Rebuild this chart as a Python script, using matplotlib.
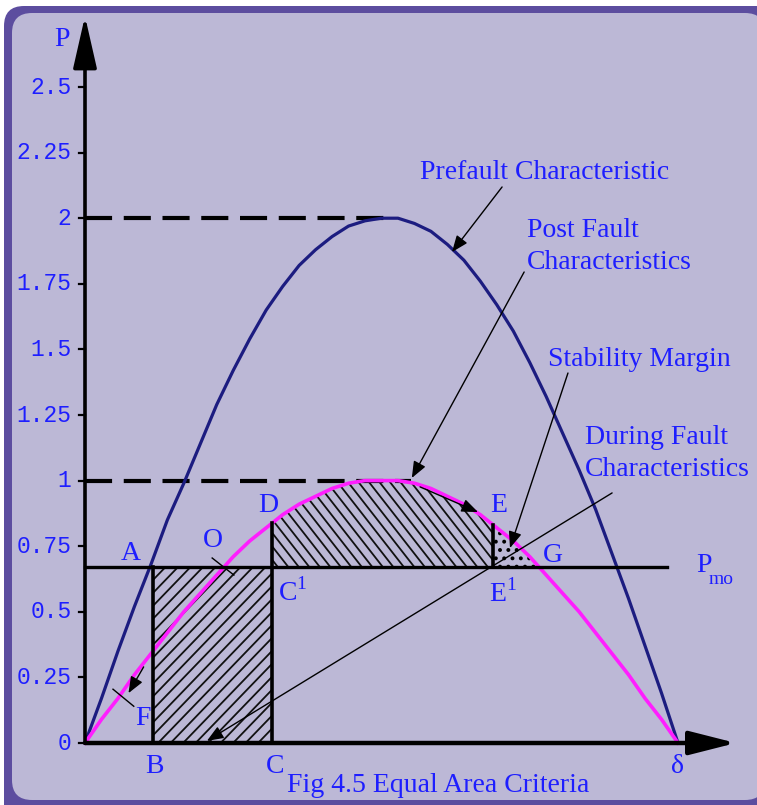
import numpy as np
import matplotlib
matplotlib.use("Agg")
import matplotlib.pyplot as plt
from matplotlib.patches import FancyBboxPatch, Polygon
from matplotlib.collections import LineCollection

# ---------------- data ----------------
delta_deg = [0, 5, 10, 15, 20, 25, 30, 35, 40, 45, 50, 55, 60, 65, 70, 75, 80, 85, 90,
             95, 100, 105, 110, 115, 120, 125, 130, 135, 140, 145, 150, 155, 160, 165, 170, 175, 180]
prefault = [0.00, 0.17, 0.35, 0.52, 0.68, 0.85, 0.99, 1.14, 1.29, 1.42, 1.54, 1.65, 1.74, 1.82, 1.88, 1.93, 1.97, 1.99, 2.00,
            2.00, 1.98, 1.95, 1.90, 1.84, 1.76, 1.67, 1.57, 1.45, 1.32, 1.18, 1.04, 0.89, 0.72, 0.55, 0.37, 0.19, 0.00]
postfault = [0.00, 0.09, 0.17, 0.26, 0.34, 0.42, 0.50, 0.57, 0.64, 0.71, 0.77, 0.82, 0.87, 0.91, 0.94, 0.97, 0.99, 1.00, 1.00,
             1.00, 0.99, 0.97, 0.94, 0.91, 0.87, 0.82, 0.77, 0.71, 0.64, 0.57, 0.50, 0.42, 0.34, 0.26, 0.17, 0.09, 0.00]
p_mo = 0.67
delta_B = 20.6      # A / B
delta_C = 56.8      # C / D
delta_E = 123.9     # E / E1
delta_G = 138.5     # G
y_ticks = [0, 0.25, 0.5, 0.75, 1, 1.25, 1.5, 1.75, 2, 2.25, 2.5]
y_tick_labels = ["0", "0.25", "0.5", "0.75", "1", "1.25", "1.5", "1.75", "2", "2.25", "2.5"]
dashed_levels = [2.0, 1.0]
dashed_ends = [94.0, 99.0]

d = np.array(delta_deg, dtype=float)
pre = np.array(prefault)
post = np.array(postfault)

# ---------------- style ----------------
BG = "#bcb8d6"
FRAME = "#5c4d9f"
BLUE = "#1e1eff"
NAVY = "#1c1c80"
PINK = "#ff1eff"
SERIF = ["Liberation Serif", "DejaVu Serif"]
MONO = ["Liberation Mono", "DejaVu Sans Mono"]
plt.rcParams["hatch.linewidth"] = 1.6
plt.rcParams["hatch.color"] = "black"

W, H = 757, 805
fig = plt.figure(figsize=(W / 100, H / 100), dpi=100)
fig.patch.set_facecolor("white")

# background frame (pixel coordinates, y up)
bg = fig.add_axes([0, 0, 1, 1])
bg.set_xlim(0, W)
bg.set_ylim(0, H)
bg.axis("off")
bg.add_patch(FancyBboxPatch((4, -20), 800, H - 6 + 20, boxstyle="round,pad=0,rounding_size=20",
                            facecolor=FRAME, edgecolor="none"))
bg.add_patch(FancyBboxPatch((12, 5), 753, H - 13 - 5, boxstyle="round,pad=0,rounding_size=20",
                            facecolor=BG, edgecolor="none"))

# main data axes: delta 0..180 -> x 85..678 px ; P 0..2.5 -> y 743..87 px
px_per_deg = (678 - 85) / 180.0
px_per_p = (743 - 87) / 2.5
ax = fig.add_axes([0, 0, 1, 1])
ax.patch.set_alpha(0)
ax.set_xlim(-85 / px_per_deg, (W - 85) / px_per_deg)
ax.set_ylim(-(H - 743) / px_per_p, 743 / px_per_p)
ax.axis("off")


def hatch_region(xs, ylo, yhi, angle_deg, spacing_px, lw=1.3):
    """Parallel hatch lines (in pixel space) clipped to the region between ylo and yhi."""
    xs = np.asarray(xs, float)
    ylo = np.broadcast_to(np.asarray(ylo, float), xs.shape)
    yhi = np.broadcast_to(np.asarray(yhi, float), xs.shape)
    poly = np.column_stack([np.r_[xs, xs[::-1]], np.r_[ylo, yhi[::-1]]])
    clip = Polygon(poly, closed=True, facecolor="none", edgecolor="none")
    ax.add_patch(clip)
    x0, x1 = xs.min() * px_per_deg, xs.max() * px_per_deg
    y0, y1 = min(ylo.min(), yhi.min()) * px_per_p, max(ylo.max(), yhi.max()) * px_per_p
    t = np.tan(np.radians(angle_deg))
    span = abs((y1 - y0) / t)
    segs = []
    for c in np.arange(x0 - span - spacing_px, x1 + span + spacing_px, spacing_px):
        xa = c
        xb = c + (y1 - y0) / t
        segs.append([(xa / px_per_deg, y0 / px_per_p), (xb / px_per_deg, y1 / px_per_p)])
    lc = LineCollection(segs, colors="#111111", linewidths=lw, zorder=2)
    lc.set_clip_path(clip)
    ax.add_collection(lc)


# hatched areas
hatch_region([delta_B, delta_C], 0.0, p_mo, 46, 12.5)
m = (d > delta_C) & (d < delta_E)
xs2 = np.concatenate([[delta_C], d[m], [delta_E]])
ys2 = np.interp(xs2, d, post)
hatch_region(xs2, p_mo, ys2, -52, 10.5)
m3 = (d > delta_E) & (d < delta_G)
xs3 = np.concatenate([[delta_E], d[m3], [delta_G]])
ys3 = np.interp(xs3, d, post)
ax.fill_between(xs3, p_mo, ys3, facecolor="none", edgecolor="black", hatch="..",
                linewidth=0, zorder=2)

# dashed reference lines
for lev, end in zip(dashed_levels, dashed_ends):
    ax.plot([0, end], [lev, lev], color="black", lw=3, dashes=(6.5, 2.8), zorder=3,
            solid_capstyle="butt", dash_capstyle="butt")

# curves
ax.plot(d, pre, color=NAVY, lw=2.3, zorder=4)
ax.plot(d, post, color=PINK, lw=2.6, zorder=4)

# Pmo line and vertical lines
ax.plot([0, 176.7], [p_mo, p_mo], color="black", lw=2.4, zorder=5)
ax.plot([delta_B, delta_B], [0, p_mo], color="black", lw=2.6, zorder=5)
pC = np.interp(delta_C, d, post)
pE = np.interp(delta_E, d, post)
ax.plot([delta_C, delta_C], [0, pC], color="black", lw=2.6, zorder=5)
ax.plot([delta_E, delta_E], [p_mo, pE], color="black", lw=2.6, zorder=5)

# axes with arrow heads
ax.annotate("", xy=(0, 2.77), xytext=(0, 0),
            arrowprops=dict(arrowstyle="-|>,head_length=1.45,head_width=0.33", mutation_scale=22,
                            lw=2.6, color="black", shrinkA=0, shrinkB=0), zorder=6)
ax.annotate("", xy=(197.6, 0), xytext=(0, 0),
            arrowprops=dict(arrowstyle="-|>,head_length=1.3,head_width=0.33", mutation_scale=22,
                            lw=3.2, color="black", shrinkA=0, shrinkB=0), zorder=6)

# y ticks
tick_len = 6 / px_per_deg
for t, lab in zip(y_ticks, y_tick_labels):
    ax.plot([-tick_len, 0], [t, t], color="black", lw=1.6, zorder=6)
    ax.text(-13.5 / px_per_deg, t, lab, family=MONO, fontsize=16.5, color=BLUE,
            ha="right", va="center")

# annotation arrows
arr = dict(arrowstyle="-|>,head_length=0.5,head_width=0.2", mutation_scale=20, lw=1.0,
           color="black", shrinkA=0, shrinkB=0)
ax.annotate("", xy=(111.4, 1.871), xytext=(126.6, 2.119), arrowprops=arr, zorder=7)
ax.annotate("", xy=(99.2, 1.01), xytext=(133.3, 1.795), arrowprops=arr, zorder=7)
ax.annotate("", xy=(129.0, 0.743), xytext=(146.6, 1.41), arrowprops=arr, zorder=7)
ax.annotate("", xy=(37.0, 0.008), xytext=(160.0, 0.953), arrowprops=arr, zorder=7)
ax.annotate("", xy=(119.3, 0.88), xytext=(101.7, 0.976), arrowprops=arr, zorder=7)
ax.annotate("", xy=(13.2, 0.19), xytext=(17.8, 0.29), arrowprops=arr, zorder=7)
# leader lines for O and F
ax.plot([38.6, 45.2], [0.705, 0.64], color="black", lw=1.0, zorder=7)
ax.plot([8.5, 14.8], [0.205, 0.14], color="black", lw=1.0, zorder=7)

# text
fs = 20
def txt(x, y, s, **kw):
    kw.setdefault("ha", "center")
    kw.setdefault("va", "center")
    ax.text(x, y, s, family=SERIF, fontsize=kw.pop("fontsize", fs), color=BLUE, **kw)

txt(-7.0, 2.68, "P")
txt(14.0, 0.724, "A")
txt(38.9, 0.77, "O")
txt(55.6, 0.907, "D")
txt(63.0, 0.575, "C$^{\\mathregular{1}}$")
txt(125.7, 0.907, "E")
txt(127.0, 0.57, "E$^{\\mathregular{1}}$")
txt(142.0, 0.716, "G")
txt(17.6, 0.095, "F")
txt(21.2, -0.09, "B")
txt(57.7, -0.09, "C")
txt(179.7, -0.09, "δ")
txt(61.3, -0.162, "Fig 4.5 Equal Area Criteria", ha="left")
txt(185.5, 0.675, "P", ha="left")
txt(189.3, 0.625, "mo", ha="left", fontsize=14)
txt(101.7, 2.176, "Prefault Characteristic", ha="left")
txt(134.2, 1.955, "Post Fault", ha="left")
txt(134.2, 1.83, "Characteristics", ha="left")
txt(140.6, 1.46, "Stability Margin", ha="left")
txt(151.8, 1.166, "During Fault", ha="left")
txt(151.8, 1.044, "Characteristics", ha="left")

fig.savefig("out.png", dpi=100, facecolor=fig.get_facecolor())
